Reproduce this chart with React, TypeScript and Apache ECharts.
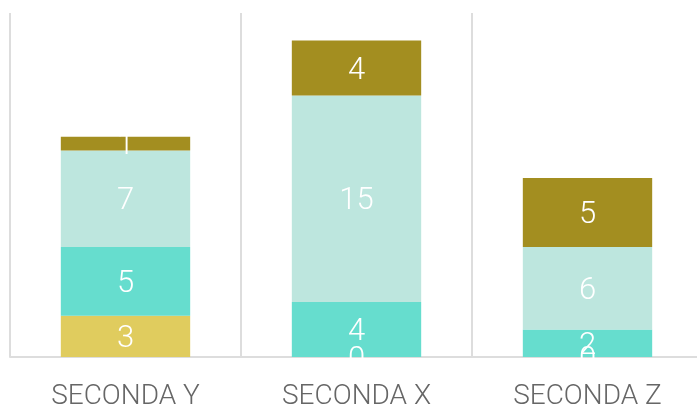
import React, { useEffect, useRef } from "react";
import * as echarts from "echarts";

const categories = ["SECONDA Y", "SECONDA X", "SECONDA Z"];
const seriesNames = ["A", "B", "C", "D"];
const serieA = [3, 0, 0];
const serieB = [5, 4, 2];
const serieC = [7, 15, 6];
const serieD = [1, 4, 5];
const colors = ["#e0cc5e", "#66ddce", "#bde6de", "#a38e20"];

export default function App() {
  const ref = useRef<HTMLDivElement>(null);
  useEffect(() => {
    document.body.style.margin = "0";
    const chart = echarts.init(ref.current!, null, { renderer: "svg" });
    const data = [serieA, serieB, serieC, serieD];
    chart.setOption({
      animation: false,
      grid: {
        left: 10,
        width: 693,
        top: 13,
        bottom: 52,
        containLabel: false,
        outerBoundsMode: "none",
      },
      xAxis: {
        type: "category",
        data: categories,
        axisLine: { lineStyle: { color: "#dddddd", width: 2 } },
        axisTick: { show: false },
        splitLine: { show: true, lineStyle: { color: "#dddddd", width: 2 } },
        axisLabel: {
          color: "#666666",
          fontFamily: "Roboto",
          fontWeight: 300,
          fontSize: 28,
          lineHeight: 26,
          margin: 24,
        },
      },
      yAxis: {
        type: "value",
        min: 0,
        max: 25,
        show: false,
        splitLine: { show: false },
      },
      series: data.map((d, i) => ({
        name: seriesNames[i],
        type: "bar",
        stack: "total",
        data: d,
        barWidth: "56%",
        itemStyle: { color: colors[i] },
        label: {
          show: true,
          position: "inside",
          color: "#ffffff",
          fontFamily: "Roboto",
          fontWeight: 300,
          fontSize: 31,
        },
      })),
    });
    return () => chart.dispose();
  }, []);
  return (
    <div
      ref={ref}
      style={{ position: "fixed", left: 0, top: 0, width: 697, height: 409 }}
    />
  );
}
